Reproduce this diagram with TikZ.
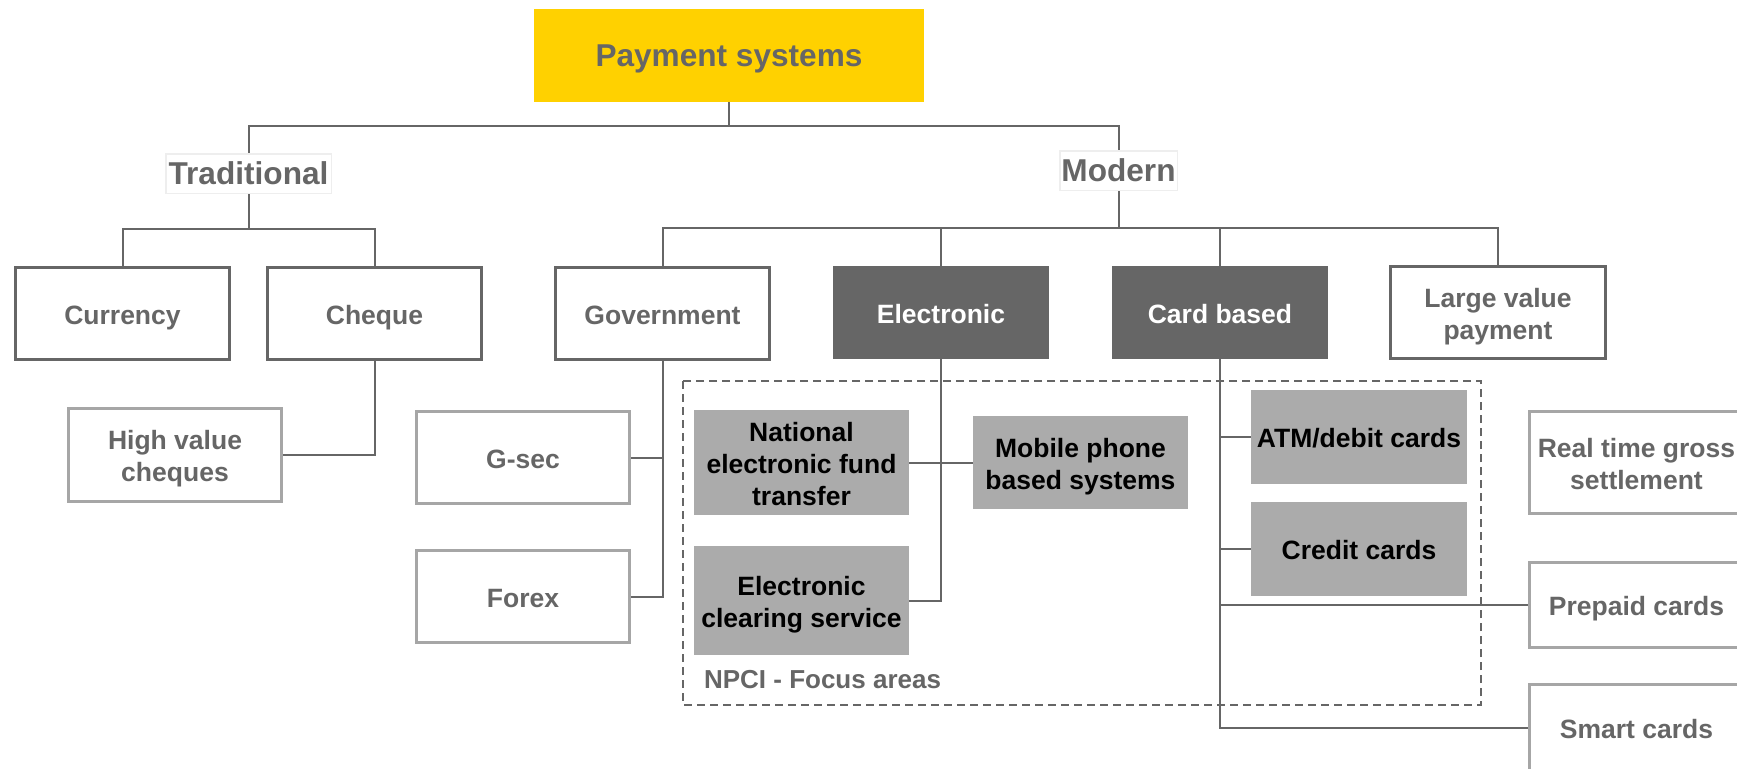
\documentclass[tikz,border=0pt]{standalone}
\usepackage{fontspec}
\setmainfont{Liberation Sans}
\definecolor{ey}{HTML}{FFD100}
\definecolor{dg}{HTML}{666666}
\definecolor{lg}{HTML}{ABABAB}
\definecolor{bg}{HTML}{A6A6A6}
\definecolor{vl}{HTML}{EEEEEE}
% struts that centre the capitals of each text in its box
\newcommand\mystrutA{\rule{0pt}{13.9pt}}
\newcommand\mystrutB{\rule[-2.92pt]{0pt}{2.92pt}}
\newcommand\mystrutC{\rule{0pt}{14.79pt}}
\newcommand\mystrutD{\rule[-3.48pt]{0pt}{3.48pt}}
\begin{document}
\begin{tikzpicture}[x=0.5pt,y=-0.5pt,
 base/.style={rectangle, inner sep=0pt, align=center, font=\bfseries\fontsize{13.25}{16}\selectfont},
 topbox/.style={base, fill=ey, text=dg, font=\bfseries\fontsize{15.8}{19}\selectfont},
 catbox/.style={base, draw=vl, line width=0.75pt, fill=white, text=dg, font=\bfseries\fontsize{15.8}{19}\selectfont},
 lvlbox/.style={base, draw=dg, line width=1.5pt, fill=white, text=dg},
 darkbox/.style={base, fill=dg, text=white},
 leafbox/.style={base, draw=bg, line width=1.5pt, fill=white, text=dg},
 focusbox/.style={base, fill=lg, text=black},
 link/.style={draw=dg, line width=1pt},
]
\clip (0,0) rectangle (1737,768);
\fill[white] (0,0) rectangle (1737,768);

% focus area frame
\draw[dg, line width=0.75pt, dash pattern=on 4pt off 2.5pt] (683,381) rectangle (1481,705);
\node[anchor=west, text=dg, font=\bfseries\fontsize{13}{16}\selectfont] (npci) at (697,680) {NPCI - Focus areas};

% nodes
\node[topbox, minimum width=195pt, minimum height=46.5pt] (pay) at (729,55.5) {\mystrutC Payment systems\mystrutD};
\node[catbox, minimum width=82.75pt, minimum height=19.75pt] (trad) at (248.5,173.5) {\mystrutC Traditional\mystrutD};
\node[catbox, minimum width=58.75pt, minimum height=19.75pt] (mod) at (1118.5,170.5) {\mystrutC Modern\mystrutD};

\node[lvlbox, minimum width=107pt, minimum height=46pt] (cur) at (122.5,313.5) {\mystrutA Currency\mystrutB};
\node[lvlbox, minimum width=107pt, minimum height=46pt] (chq) at (374.5,313.5) {\mystrutA Cheque\mystrutB};
\node[lvlbox, minimum width=107pt, minimum height=46pt] (gov) at (662.5,313.5) {\mystrutA Government\mystrutB};
\node[darkbox, minimum width=108pt, minimum height=46.5pt] (ele) at (941,312.5) {\mystrutA Electronic\mystrutB};
\node[darkbox, minimum width=108pt, minimum height=46.5pt] (card) at (1220,312.5) {\mystrutA Card based\mystrutB};
\node[lvlbox, minimum width=107.5pt, minimum height=46pt] (lvp) at (1498,312.5) {\mystrutA Large value\\payment\mystrutB};

\node[leafbox, minimum width=106.5pt, minimum height=46.5pt] (hvc) at (175,455) {\mystrutA High value\\cheques\mystrutB};
\node[leafbox, minimum width=106.5pt, minimum height=46pt] (gsec) at (523,457.5) {\mystrutA G-sec\mystrutB};
\node[leafbox, minimum width=106.5pt, minimum height=46pt] (forex) at (523,596.5) {\mystrutA Forex\mystrutB};

\node[focusbox, minimum width=107.5pt, minimum height=52.5pt] (neft) at (801.5,462.5) {\mystrutA National\\electronic fund\\transfer\mystrutB};
\node[focusbox, minimum width=107.5pt, minimum height=54.5pt] (ecs) at (801.5,600.5) {\mystrutA Electronic\\clearing service\mystrutB};
\node[focusbox, minimum width=107.5pt, minimum height=46.5pt] (mob) at (1080.5,462.5) {\mystrutA Mobile phone\\based systems\mystrutB};
\node[focusbox, minimum width=108pt, minimum height=47pt] (atm) at (1359,437) {\mystrutA ATM/debit cards\mystrutB};
\node[focusbox, minimum width=108pt, minimum height=47pt] (cc) at (1359,549) {\mystrutA Credit cards\mystrutB};

\node[leafbox, minimum width=107pt, minimum height=51pt] (rtgs) at (1636.5,462.5) {\mystrutA Real time gross\\settlement\mystrutB};
\node[leafbox, minimum width=107pt, minimum height=42.5pt] (pre) at (1636.5,605) {\mystrutA Prepaid cards\mystrutB};
\node[leafbox, minimum width=107pt, minimum height=43.5pt] (smart) at (1636.5,728) {\mystrutA Smart cards\mystrutB};

% connectors
\coordinate (b0) at (0,126);
\coordinate (b1) at (0,229);
\coordinate (b2) at (0,228);
\draw[link] (pay.south) -- (pay.south |- b0) -| (trad.north);
\draw[link] (pay.south |- b0) -| (mod.north);
\draw[link] (trad.south) -- (trad.south |- b1);
\draw[link] (cur.north) -- (cur.north |- b1) -- (chq.north |- b1) -- (chq.north);
\draw[link] (mod.south) -- (mod.south |- b2);
\draw[link] (gov.north) -- (gov.north |- b2) -- (lvp.north |- b2) -- (lvp.north);
\draw[link] (ele.north) -- (ele.north |- b2);
\draw[link] (card.north) -- (card.north |- b2);

\draw[link] (chq.south) |- (hvc.east);
\draw[link] (gov.south) |- (gsec.east);
\draw[link] (gov.south) |- (forex.east);
\draw[link] (ele.south) |- (ecs.east);
\draw[link] (neft.east) -- (mob.west);
\draw[link] (card.south) |- (atm.west);
\draw[link] (card.south) |- (cc.west);
\draw[link] (card.south) |- (pre.west);
\draw[link] (card.south) |- (smart.west);
\end{tikzpicture}
\end{document}
